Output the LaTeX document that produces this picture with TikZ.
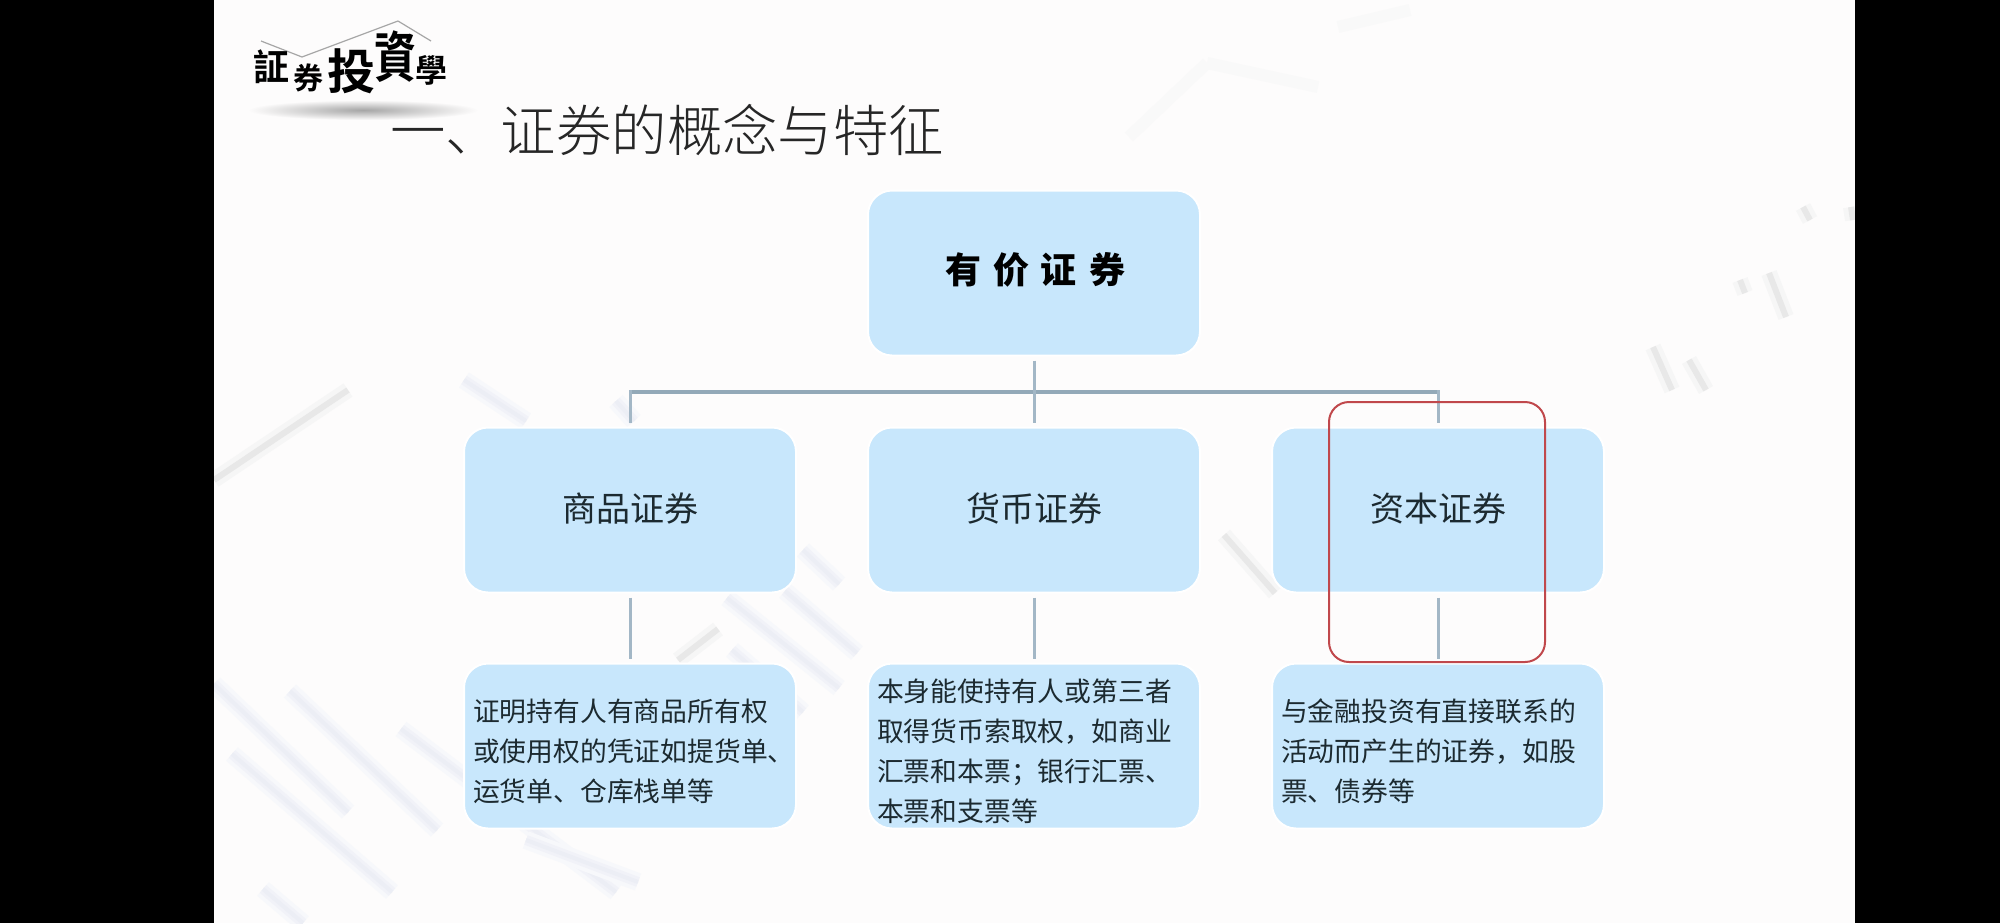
\documentclass[tikz,border=0pt]{standalone}
\usepackage{fontspec}
\setmainfont{Noto Sans CJK SC}
\newfontfamily\titlefont{Noto Sans CJK SC Light}
\newfontfamily\tcfont{Noto Sans CJK TC}[BoldFont=* Bold]
\usetikzlibrary{positioning}
\definecolor{slidebg}{HTML}{FDFCFC}
\definecolor{boxblue}{HTML}{C8E7FC}
\definecolor{linkgray}{HTML}{A3B7C6}
\definecolor{busgray}{HTML}{93A9B8}
\definecolor{framered}{HTML}{C0484C}
\definecolor{textdark}{HTML}{1C2A30}
\definecolor{stripeblue}{HTML}{DFE2EF}
\definecolor{stripegray}{HTML}{D9D9D9}
\tikzset{
bigbox/.style={draw=white,line width=1pt,fill=boxblue,rounded corners=12pt,minimum width=166pt,minimum height=82.5pt,text=textdark},
descbox/.style={bigbox,font=\fontsize{13.4pt}{20pt}\selectfont,align=left,text width=157pt,inner sep=0pt,execute at begin node={\rule{0pt}{16.2pt}}},
midtext/.style={font=\fontsize{17pt}{20pt}\selectfont},
link/.style={draw=linkgray,line width=1.5pt,shorten <=2pt,shorten >=2pt},
logo/.style={text=black,inner sep=0pt}
}
\newcommand{\logofont}[1]{\tcfont\bfseries\fontsize{#1pt}{#1pt}\selectfont}
\begin{document}
\begin{tikzpicture}[x=0.5pt,y=-0.5pt]
\useasboundingbox (0,0) rectangle (2000,923);
\fill[slidebg] (0,0) rectangle (2000,923);
\foreach \a/\b/\c/\d in {290/691/437/830,214/684/348/812,401/729/616/892,232/754/392/892,526/840/638/882,263/889/303/923,803/550/839/584,727/598/839/688,785/591/857/653,732/650/803/712,464/380/526/421,616/401/634/421} {
\draw[stripeblue!25,line width=9pt] (\a,\b) -- (\c,\d);
\draw[stripeblue!45,line width=5pt] (\a,\b) -- (\c,\d);
\draw[stripeblue!60,line width=2pt] (\a,\b) -- (\c,\d);
}
\foreach \a/\b/\c/\d in {214/480/348/390,678/660/718/629,1653/347/1672/390,1689/360/1706/390,1769/273/1786/317,1740/280/1745/293,1803/207/1810/220,1851/207/1853/220,1224/535/1275/593} {
\draw[stripegray!25,line width=8pt] (\a,\b) -- (\c,\d);
\draw[stripegray!60,line width=3pt] (\a,\b) -- (\c,\d);
}
\foreach \a/\b/\c/\d in {1129/137/1207/63,1207/63/1318/87,1338/27/1410/10} {
\draw[stripegray!15,line width=6pt] (\a,\b) -- (\c,\d);
}
\fill[black] (0,0) rectangle (214,923);
\fill[black] (1855,0) rectangle (2000,923);
\shade[inner color=gray!70,outer color=slidebg] (363,110) ellipse (115 and 10);
\node[bigbox] (topbox) at (1034,273) {};
\node[font=\bfseries\fontsize{18pt}{20pt}\selectfont,text=black] (toptext) at (1035,270) {有\hspace{6pt}价\hspace{6pt}证\hspace{6pt}券};
\node[bigbox,midtext] (goods) at (630,510) {\raisebox{2.5pt}{商品证券}};
\node[bigbox,midtext] (money) at (1034,510) {\raisebox{2.5pt}{货币证券}};
\node[bigbox,midtext] (capital) at (1438,510) {\raisebox{2.5pt}{资本证券}};
\node[descbox] (goodsnote) at (630,746) {证明持有人有商品所有权\\或使用权的凭证如提货单、\\运货单、仓库栈单等};
\node[descbox] (moneynote) at (1034,746) {本身能使持有人或第三者\\取得货币索取权，如商业\\汇票和本票；银行汇票、\\本票和支票等};
\node[descbox] (capitalnote) at (1438,746) {与金融投资有直接联系的\\活动而产生的证券，如股\\票、债券等};
\coordinate (busl) at (630,392);
\coordinate (busr) at (1438,392);
\draw[draw=busgray,line width=1.7pt] (busl) to (busr);
\draw[link] (topbox) to (money);
\draw[link,shorten <=-0.8pt] (busl) to (goods);
\draw[link,shorten <=-0.8pt] (busr) to (capital);
\draw[link] (goods) to (goodsnote);
\draw[link] (money) to (moneynote);
\draw[link] (capital) to (capitalnote);
\node[draw=framered,line width=1pt,rounded corners=10pt,minimum width=108pt,minimum height=130pt] (redframe) at (1437,532) {};
\node[text=black!85,font=\titlefont\fontsize{27.7pt}{30pt}\selectfont,inner sep=0pt] (title) at (667,130) {一、证券的概念与特征};
\coordinate (p0) at (261,41);
\coordinate (p1) at (302,57);
\coordinate (p2) at (398,21);
\coordinate (p3) at (431,41);
\draw[gray!70,line width=0.6pt] (p0) to (p1);
\draw[gray!70,line width=0.6pt] (p1) to (p2);
\draw[gray!70,line width=0.6pt] (p2) to (p3);
\node[logo,font=\logofont{18}] (zheng) at (271,67) {証};
\node[logo,font=\logofont{15}] (quan) at (308,78) {券};
\node[logo,font=\logofont{24}] (tou) at (351,71) {投};
\node[logo,font=\logofont{21},yscale=1.3] (zi) at (395,57) {資};
\node[logo,font=\logofont{16}] (xue) at (431,70) {學};
\end{tikzpicture}
\end{document}
